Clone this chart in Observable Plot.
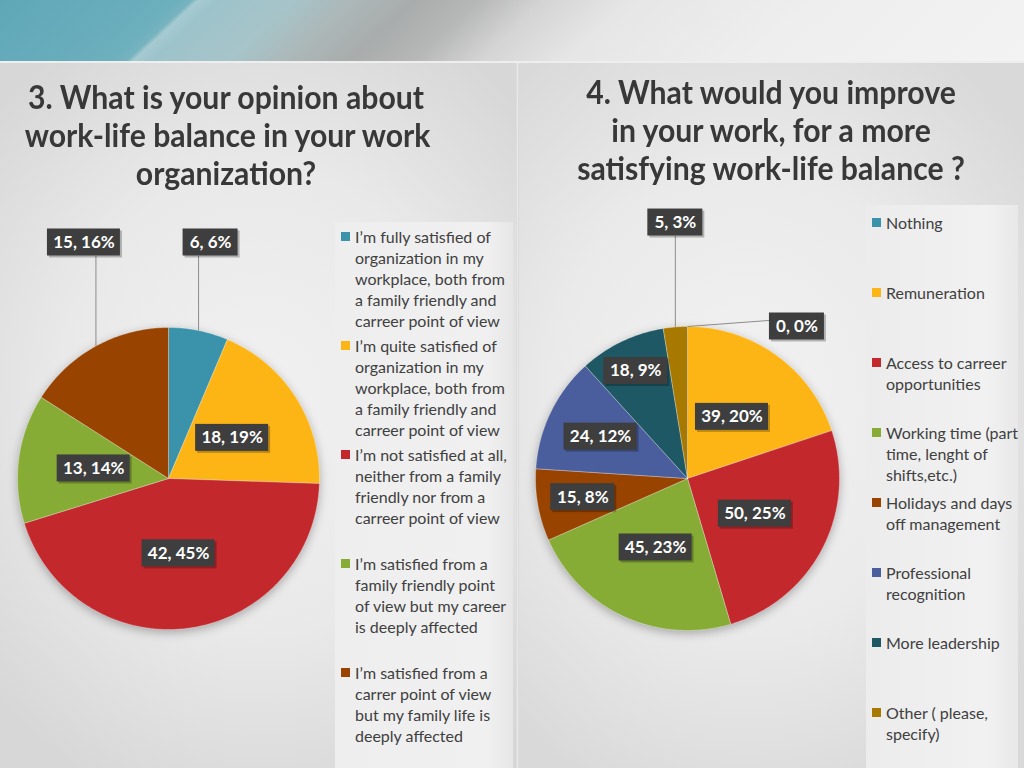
<!DOCTYPE html>
<html>
<head>
<meta charset="utf-8">
<script src="https://cdn.jsdelivr.net/npm/d3@7"></script>
<script src="https://cdn.jsdelivr.net/npm/@observablehq/plot@0.6"></script>
<style>
html, body { margin: 0; padding: 0; }
#slide { position: relative; width: 1024px; height: 768px; overflow: hidden; background: #e2e2e2; font-family: Lato, "Open Sans", sans-serif; }
.abs { position: absolute; }
#banner { left: 0; top: 0; width: 1024px; height: 61px;
  background: linear-gradient(137deg, #5fa7b8 0%, #6cafbd 16%, #76b3bf 17.6%, #a6cad1 18.2%, #9dc3ca 20%, #a6c4c9 27%, #acb8b9 32%, #a9acac 38%, #b6b7b7 44%, #d4d4d4 50%, #e6e6e6 58%, #eeeeee 75%, #f3f3f3 100%); }
#bannerline { left: 0; top: 61px; width: 1024px; height: 2px; background: #eeeeee; }
#panelL { left: 0; top: 63px; width: 517px; height: 705px;
  background: radial-gradient(ellipse 70% 60% at 50% 48%, #f1f1f1 0%, #e9e9e9 55%, #d7d7d7 100%); }
#panelR { left: 519px; top: 63px; width: 505px; height: 705px;
  background: radial-gradient(ellipse 70% 60% at 45% 48%, #f2f2f2 0%, #eaeaea 55%, #d9d9d9 100%); }
#sep { left: 516px; top: 63px; width: 3px; height: 705px; background: linear-gradient(to right, #d6d6d6, #e9e9e9, #d3d3d3); }
#colL { left: 335px; top: 222px; width: 178px; height: 546px; background: linear-gradient(to right, #eeeeee, #f0f0f0 85%, #e6e6e6 100%); }
#colR { left: 866px; top: 205px; width: 152px; height: 563px; background: linear-gradient(to right, #ececec, #f1f1f1 80%, #e8e8e8 100%); }
.title { position: absolute; text-align: center; color: #383838; font-weight: 700; font-size: 33px; line-height: 38px; white-space: nowrap; transform: scaleX(0.915); transform-origin: 50% 0; }
.legend-item { position: absolute; font-size: 16px; line-height: 21px; color: #404040; white-space: pre-line; }
.legend-item .sw { position: absolute; width: 9px; height: 9px; top: 6px; }
.pie { position: absolute; }
.pie g[aria-label="line"] { filter: drop-shadow(0px 3px 5px rgba(0,0,0,0.28)); }
</style>
</head>
<body>
<div id="slide">
  <div id="banner" class="abs"></div>
  <div id="bannerline" class="abs"></div>
  <div id="panelL" class="abs"></div>
  <div id="panelR" class="abs"></div>
  <div id="sep" class="abs"></div>
  <div id="colL" class="abs"></div>
  <div id="colR" class="abs"></div>
  <div id="title3" class="title" style="left:6px; top:77px; width:440px;"></div>
  <div id="title4" class="title" style="left:551px; top:72px; width:440px;"></div>
  <div id="pie3" class="pie" style="left:0px; top:190px;"></div>
  <div id="pie4" class="pie" style="left:519px; top:190px;"></div>
  <div id="legend3"></div>
  <div id="legend4"></div>
</div>
<script>
// ---------- DATA ----------
const q3Title = ["3. What is your opinion about", "work-life balance in your work", "organization?"];
const q3Categories = [
  "I’m fully satisfied of\norganization in my\nworkplace, both from\na family friendly and\ncarreer point of view",
  "I’m quite satisfied of\norganization in my\nworkplace, both from\na family friendly and\ncarreer point of view",
  "I’m not satisfied at all,\nneither from a family\nfriendly nor from a\ncarreer point of view",
  "I’m satisfied from a\nfamily friendly point\nof view but my career\nis deeply affected",
  "I’m satisfied from a\ncarrer point of view\nbut my family life is\ndeeply affected"
];
const q3Counts = [6, 18, 42, 13, 15];
const q3Percents = [6, 19, 45, 14, 16];
const q3Colors = ["#3a93ab", "#fdb515", "#c3282d", "#87ac36", "#984300"];
const q3LabelOutside = [true, false, false, false, true];

const q4Title = ["4. What would you improve", "in your work, for a more", "satisfying work-life balance ?"];
const q4Categories = [
  "Nothing",
  "Remuneration",
  "Access to carreer\nopportunities",
  "Working time (part\ntime, lenght of\nshifts,etc.)",
  "Holidays and days\noff management",
  "Professional\nrecognition",
  "More leadership",
  "Other ( please,\nspecify)"
];
const q4Counts = [0, 39, 50, 45, 15, 24, 18, 5];
const q4Percents = [0, 20, 25, 23, 8, 12, 9, 3];
const q4Colors = ["#3a93ab", "#fdb515", "#c3282d", "#87ac36", "#984300", "#4a5e9d", "#1e5865", "#a87900"];
const q4LabelOutside = [true, false, false, false, false, false, false, true];

// ---------- PIE BUILDER ----------
function buildPie({categories, counts, percents, colors, outside, W, H, cx, cy, R, outsideY}) {
  const data = categories.map((c, i) => ({key: c, value: counts[i], pct: percents[i], outside: outside[i]}));
  const arcs = d3.pie().sort(null).value(d => d.value)(data);
  const TAU = 2 * Math.PI;

  // slice polygons
  const pts = [];
  for (const a of arcs) {
    if (a.endAngle - a.startAngle <= 0) continue;
    const n = Math.max(2, Math.ceil((a.endAngle - a.startAngle) / (Math.PI / 180)));
    pts.push({key: a.data.key, x: 0, y: 0});
    for (let k = 0; k <= n; k++) {
      const t = a.startAngle + (a.endAngle - a.startAngle) * k / n;
      pts.push({key: a.data.key, x: Math.sin(t), y: Math.cos(t)});
    }
    pts.push({key: a.data.key, x: 0, y: 0});
  }

  // labels
  const boxH = 27 / R;
  const labels = [], leaders = [];
  for (const a of arcs) {
    const text = `${a.data.value}, ${a.data.pct}%`;
    const w = (9 * text.length + 10) / R;
    const a0 = a.startAngle, a1 = a.endAngle, mid = (a0 + a1) / 2;
    let lx, ly;
    if (a.data.value === 0) {
      lx = 0.72; ly = 1.0;
      leaders.push({x1: Math.sin(mid), y1: Math.cos(mid), x2: lx - w / 2, y2: ly + 0.04});
    } else if (a.data.outside) {
      const s = Math.sin(mid);
      const off = Math.abs(s) > 0.15 ? Math.sign(s) * 12 / R : 0;
      lx = s + off; ly = outsideY;
      leaders.push({x1: s, y1: Math.cos(mid), x2: s, y2: ly - boxH / 2});
    } else {
      const fits = r => {
        const px = r * Math.sin(mid), py = r * Math.cos(mid);
        for (const [dx, dy] of [[-1, -1], [-1, 1], [1, -1], [1, 1]]) {
          const x = px + dx * w / 2, y = py + dy * boxH / 2;
          if (Math.hypot(x, y) > 1) return false;
          let ang = Math.atan2(x, y); if (ang < 0) ang += TAU;
          if (ang < a0 || ang > a1) return false;
        }
        return true;
      };
      let rr = 0.6;
      for (let r = 0.5; r <= 0.9; r += 0.005) { if (fits(r)) { rr = r; break; } }
      lx = rr * Math.sin(mid); ly = rr * Math.cos(mid);
    }
    labels.push({text, x: lx, y: ly, x1: lx - w / 2, x2: lx + w / 2, y1: ly - boxH / 2, y2: ly + boxH / 2});
  }

  return Plot.plot({
    width: W, height: H, margin: 0,
    x: {domain: [-cx / R, (W - cx) / R], axis: null},
    y: {domain: [-(H - cy) / R, cy / R], axis: null},
    color: {domain: categories, range: colors},
    style: {background: "transparent", overflow: "visible"},
    marks: [
      Plot.line(pts, {x: "x", y: "y", z: "key", fill: "key", stroke: "#ffffff", strokeWidth: 0.6, strokeOpacity: 0.5, curve: "linear"}),
      Plot.link(leaders, {x1: "x1", y1: "y1", x2: "x2", y2: "y2", stroke: "#8c8c8c", strokeWidth: 1}),
      Plot.rect(labels, {x1: "x1", x2: "x2", y1: "y1", y2: "y2", fill: "#000", fillOpacity: 0.25, dx: 2, dy: 2}),
      Plot.rect(labels, {x1: "x1", x2: "x2", y1: "y1", y2: "y2", fill: "#3e3e3e"}),
      Plot.text(labels, {x: "x", y: "y", text: "text", fill: "white", fontWeight: "bold", fontSize: 17, fontFamily: "Lato, 'Open Sans', sans-serif"})
    ]
  });
}

document.getElementById("pie3").appendChild(buildPie({
  categories: q3Categories, counts: q3Counts, percents: q3Percents, colors: q3Colors, outside: q3LabelOutside,
  W: 340, H: 460, cx: 168, cy: 288, R: 151, outsideY: 1.563
}));
document.getElementById("pie4").appendChild(buildPie({
  categories: q4Categories, counts: q4Counts, percents: q4Percents, colors: q4Colors, outside: q4LabelOutside,
  W: 340, H: 460, cx: 168, cy: 288, R: 152, outsideY: 1.684
}));

// ---------- TITLES ----------
document.getElementById("title3").innerHTML = q3Title.join("<br>");
document.getElementById("title4").innerHTML = q4Title.join("<br>");

// ---------- LEGENDS ----------
function buildLegend(el, categories, colors, left, top0, step) {
  categories.forEach((c, i) => {
    const d = document.createElement("div");
    d.className = "legend-item";
    d.style.left = left + "px";
    d.style.top = (top0 + step * i) + "px";
    const sw = document.createElement("span");
    sw.className = "sw";
    sw.style.background = colors[i];
    sw.style.left = "-14px";
    d.appendChild(sw);
    d.appendChild(document.createTextNode(c));
    el.appendChild(d);
  });
}
buildLegend(document.getElementById("legend3"), q3Categories, q3Colors, 355, 225.5, 109);
buildLegend(document.getElementById("legend4"), q4Categories, q4Colors, 886, 211.5, 70);
</script>
</body>
</html>
